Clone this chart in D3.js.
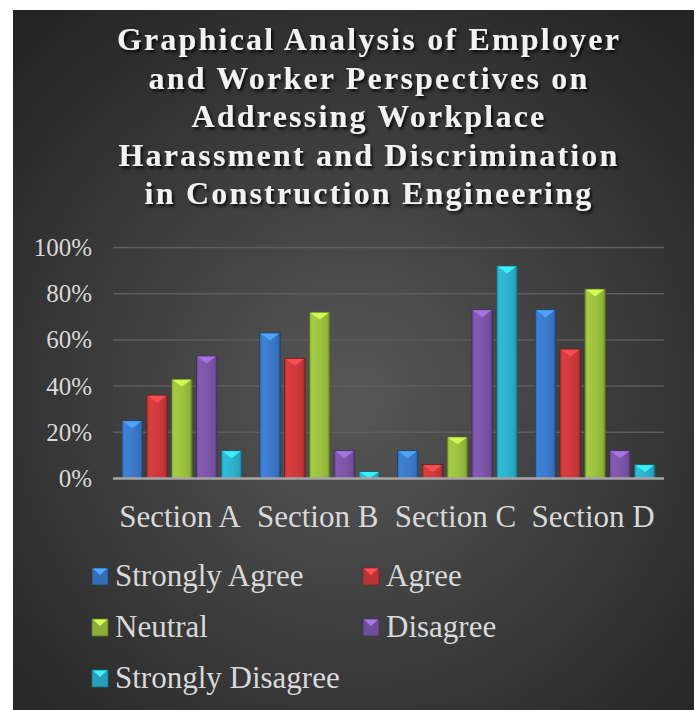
<!DOCTYPE html>
<html>
<head>
<meta charset="utf-8">
<script src="https://cdn.jsdelivr.net/npm/d3@7"></script>
<style>
  body { margin: 0; background: #fff; }
  svg { display: block; }
</style>
</head>
<body>
<svg id="chart" width="697" height="710"></svg>
<script>
// Data
const sections = ["Section A", "Section B", "Section C", "Section D"];
const seriesNames = ["Strongly Agree", "Agree", "Neutral", "Disagree", "Strongly Disagree"];
const stronglyAgree = [25, 63, 12, 73];
const agree = [36, 52, 6, 56];
const neutral = [43, 72, 18, 82];
const disagree = [53, 12, 73, 12];
const stronglyDisagree = [12, 3, 92, 6];
const yTicks = [0, 20, 40, 60, 80, 100];
const titleLines = [
  "Graphical Analysis of Employer",
  "and Worker Perspectives on",
  "Addressing Workplace",
  "Harassment and Discrimination",
  "in Construction Engineering"
];

const seriesValues = [stronglyAgree, agree, neutral, disagree, stronglyDisagree];
const colors = ["#3b7acb", "#cf3a3c", "#9cc23f", "#7d56a9", "#2db2cf"];

const svg = d3.select("#chart");
const defs = svg.append("defs");

// background panel with radial shading
const bg = defs.append("radialGradient").attr("id", "bgGrad")
  .attr("cx", "50%").attr("cy", "55%").attr("r", "70%");
bg.append("stop").attr("offset", "0%").attr("stop-color", "#575757");
bg.append("stop").attr("offset", "100%").attr("stop-color", "#242424");

svg.append("rect")
  .attr("x", 13).attr("y", 10).attr("width", 681).attr("height", 700)
  .attr("fill", "url(#bgGrad)");

// title shadow
const shadow = defs.append("filter").attr("id", "txtShadow")
  .attr("x", "-10%").attr("y", "-30%").attr("width", "120%").attr("height", "160%");
shadow.append("feDropShadow").attr("dx", 2).attr("dy", 2.5)
  .attr("stdDeviation", 1.6).attr("flood-color", "#000").attr("flood-opacity", 0.8);

svg.append("g")
  .attr("filter", "url(#txtShadow)")
  .selectAll("text")
  .data(titleLines)
  .join("text")
  .attr("x", 369)
  .attr("y", (d, i) => 50 + i * 38.5)
  .attr("text-anchor", "middle")
  .attr("font-family", "'Liberation Serif', 'Times New Roman', serif")
  .attr("font-weight", "bold")
  .attr("font-size", 32)
  .attr("letter-spacing", 2.2)
  .attr("fill", "#f2f2f2")
  .text(d => d);

// scales
const x0 = d3.scaleBand().domain(sections).range([113, 664]).paddingInner(0.13).paddingOuter(0.065);
const x1 = d3.scaleBand().domain(d3.range(seriesNames.length)).range([0, x0.bandwidth()]).paddingInner(0.17);
const y = d3.scaleLinear().domain([0, 100]).range([478.5, 247.5]);

// gridlines
svg.append("g")
  .selectAll("line")
  .data(yTicks.filter(t => t > 0))
  .join("line")
  .attr("x1", 113).attr("x2", 664)
  .attr("y1", d => y(d)).attr("y2", d => y(d))
  .attr("stroke", "#5d5d5d").attr("stroke-width", 1.5);

// y axis labels
const yAxis = svg.append("g")
  .attr("transform", "translate(113,0)")
  .call(d3.axisLeft(y).tickValues(yTicks).tickFormat(d => d + "%").tickSize(0).tickPadding(21));
yAxis.select(".domain").remove();
yAxis.selectAll("text")
  .attr("font-family", "'Liberation Serif', serif")
  .attr("font-size", 25)
  .attr("fill", "#d9d9d9");

// gradients per series for bevel look
colors.forEach((c, i) => {
  const base = d3.color(c);
  const g = defs.append("linearGradient").attr("id", "bar" + i)
    .attr("x1", "0%").attr("x2", "100%").attr("y1", "0%").attr("y2", "0%");
  g.append("stop").attr("offset", "0%").attr("stop-color", base.darker(0.5));
  g.append("stop").attr("offset", "12%").attr("stop-color", base.brighter(0.15));
  g.append("stop").attr("offset", "55%").attr("stop-color", base);
  g.append("stop").attr("offset", "88%").attr("stop-color", base.darker(0.25));
  g.append("stop").attr("offset", "100%").attr("stop-color", base.darker(1.2));
});

// bars
const bars = [];
sections.forEach((s, si) => {
  seriesValues.forEach((vals, k) => {
    bars.push({ section: s, k: k, value: vals[si] });
  });
});

const barG = svg.append("g")
  .selectAll("g")
  .data(bars)
  .join("g")
  .attr("transform", d => `translate(${x0(d.section) + x1(d.k)},0)`);

const bw = x1.bandwidth();

barG.append("rect")
  .attr("x", 0)
  .attr("y", d => y(d.value))
  .attr("width", bw)
  .attr("height", d => y(0) - y(d.value))
  .attr("fill", d => `url(#bar${d.k})`)
  .attr("stroke", d => d3.color(colors[d.k]).darker(1.8))
  .attr("stroke-width", 0.8);

// top bevel facet
barG.append("path")
  .attr("d", d => {
    const t = y(d.value);
    const h = Math.min(bw * 0.36, y(0) - t);
    return `M1,${t + 0.5} L${bw - 1},${t + 0.5} L${bw / 2},${t + h} Z`;
  })
  .attr("fill", d => d3.color(colors[d.k]).brighter(0.9))
  .attr("opacity", 0.9);

// axis baseline
svg.append("line")
  .attr("x1", 113).attr("x2", 664)
  .attr("y1", y(0)).attr("y2", y(0))
  .attr("stroke", "#a6a6a6").attr("stroke-width", 2.5);

// x axis labels
svg.append("g")
  .selectAll("text")
  .data(sections)
  .join("text")
  .attr("x", d => x0(d) + x0.bandwidth() / 2 - 2)
  .attr("y", 527)
  .attr("text-anchor", "middle")
  .attr("font-family", "'Liberation Serif', 'Times New Roman', serif")
  .attr("font-size", 31)
  .attr("fill", "#d9d9d9")
  .text(d => d);

// legend
const legendPos = [
  { x: 92, y: 586 }, { x: 363, y: 586 },
  { x: 92, y: 637 }, { x: 363, y: 637 },
  { x: 92, y: 688 }
];
const legend = svg.append("g")
  .selectAll("g")
  .data(seriesNames)
  .join("g")
  .attr("transform", (d, i) => `translate(${legendPos[i].x},${legendPos[i].y})`);

legend.append("rect")
  .attr("x", 0).attr("y", -18).attr("width", 16).attr("height", 17)
  .attr("fill", (d, i) => d3.color(colors[i]).darker(0.3))
  .attr("stroke", (d, i) => d3.color(colors[i]).darker(1.5))
  .attr("stroke-width", 0.8);
legend.append("path")
  .attr("d", "M1,-17.5 L15,-17.5 L8,-11 Z")
  .attr("fill", (d, i) => d3.color(colors[i]).brighter(0.9));

legend.append("text")
  .attr("x", 23)
  .attr("y", 0)
  .attr("font-family", "'Liberation Serif', 'Times New Roman', serif")
  .attr("font-size", 31)
  .attr("fill", "#d9d9d9")
  .text(d => d);
</script>
</body>
</html>
